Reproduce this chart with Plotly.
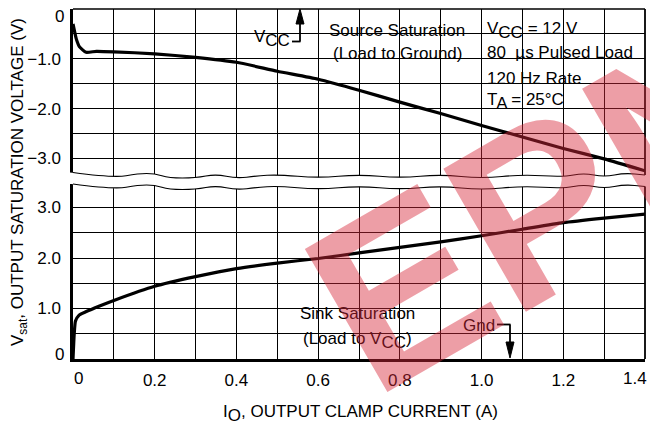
import plotly.graph_objects as go

# ---------------- data ----------------
src_I = [0, 0.008, 0.016, 0.032, 0.057, 0.1, 0.2, 0.3, 0.4, 0.5, 0.6, 0.7, 0.8, 0.9, 1.0, 1.1, 1.2, 1.3, 1.4]
src_V = [-0.30, -0.60, -0.76, -0.87, -0.85, -0.86, -0.90, -0.97, -1.07, -1.25, -1.41, -1.63, -1.87, -2.10,
         -2.34, -2.57, -2.80, -3.01, -3.25]
sink_I = [0, 0.003, 0.006, 0.015, 0.03, 0.065, 0.1, 0.2, 0.3, 0.4, 0.5, 0.6, 0.7, 0.8, 0.9, 1.0, 1.1, 1.2, 1.3, 1.4]
sink_V = [0, 0.50, 0.75, 0.87, 0.93, 1.05, 1.16, 1.44, 1.63, 1.79, 1.90, 1.99, 2.10, 2.21, 2.32, 2.44, 2.57,
          2.70, 2.79, 2.87]

x_tickvals = [0.0, 0.1, 0.2, 0.3, 0.4, 0.5, 0.6, 0.7, 0.8, 0.9, 1.0, 1.1, 1.2, 1.3, 1.4]
x_ticktext = ["", "", "0.2", "", "0.4", "", "0.6", "", "0.8", "", "1.0", "", "1.2", "", ""]
top_tickvals = [0, -0.5, -1.0, -1.5, -2.0, -2.5, -3.0]
top_ticktext = ["", "", "−1.0", "", "−2.0", "", "−3.0"]
bot_tickvals = [0, 0.5, 1.0, 1.5, 2.0, 2.5, 3.0]
bot_ticktext = ["", "", "1.0", "", "2.0", "", "3.0"]

# ---------------- layout geometry ----------------
W, H = 650, 430
ML, MR, MT, MB = 73, 5, 9, 71
PW = W - ML - MR
PH = H - MT - MB
X_MAX = 1.4
TOP_RANGE = [-3.434, 0]
BOT_RANGE = [0, 3.485]
TOP_DOM = [(359 - 180) / PH, 1]
BOT_DOM = [0, (359 - 183) / PH]

def px2x(px):
    return (px - ML) / PW

def px2y(py):
    return (H - MB - py) / PH

FONT = "Liberation Sans, Arial, Helvetica, sans-serif"
FS = 17

fig = go.Figure()
fig.add_trace(go.Scatter(x=src_I, y=src_V, xaxis="x2", yaxis="y", mode="lines",
                         line=dict(color="black", width=3.2, shape="spline", smoothing=0.5),
                         hoverinfo="skip", showlegend=False))
fig.add_trace(go.Scatter(x=sink_I, y=sink_V, xaxis="x", yaxis="y2", mode="lines",
                         line=dict(color="black", width=3.2, shape="spline", smoothing=0.5),
                         hoverinfo="skip", showlegend=False))

grid = dict(showgrid=True, gridcolor="black", gridwidth=1.2, zeroline=False)
fig.update_layout(
    width=W, height=H,
    margin=dict(l=ML, r=MR, t=MT, b=MB, pad=0),
    paper_bgcolor="white", plot_bgcolor="white",
    font=dict(family=FONT, size=FS, color="black"),
    showlegend=False,
    xaxis=dict(domain=[0, 1], anchor="y2", range=[0, X_MAX], tickvals=x_tickvals, ticktext=x_ticktext,
               showline=True, linecolor="black", linewidth=2.5, ticks="", ticklabelstandoff=4,
               tickfont=dict(size=FS), **grid),
    xaxis2=dict(domain=[0, 1], anchor="y", matches="x", range=[0, X_MAX], tickvals=x_tickvals,
                showticklabels=False, showline=False, ticks="", **grid),
    yaxis=dict(domain=TOP_DOM, anchor="x2", range=TOP_RANGE, tickvals=top_tickvals, ticktext=top_ticktext,
               showline=True, linecolor="black", linewidth=2.5, ticks="", ticklabelstandoff=6,
               tickfont=dict(size=FS), **grid),
    yaxis2=dict(domain=BOT_DOM, anchor="x", range=BOT_RANGE, tickvals=bot_tickvals, ticktext=bot_ticktext,
                showline=True, linecolor="black", linewidth=2.5, ticks="", ticklabelstandoff=6,
                tickfont=dict(size=FS), **grid),
)

shapes = []

# white label boxes (between gridlines and traces)
def white_box(x0, y0, x1, y1):
    shapes.append(dict(type="rect", xref="paper", yref="paper", layer="between",
                       x0=px2x(x0), x1=px2x(x1), y0=px2y(y1), y1=px2y(y0),
                       fillcolor="white", line=dict(width=0)))

white_box(245, 23, 303, 52)     # VCC arrow label
white_box(321, 17, 476, 66)     # Source saturation
white_box(478, 10, 644, 122)    # conditions
white_box(285, 297, 427, 353)   # Sink saturation
white_box(453, 316, 519, 338)   # Gnd

# top / right borders
shapes.append(dict(type="line", xref="paper", yref="paper", x0=0, x1=1, y0=1, y1=1,
                   line=dict(color="black", width=1.5), layer="above"))
shapes.append(dict(type="line", xref="paper", yref="paper", x0=1, x1=1, y0=TOP_DOM[0], y1=1,
                   line=dict(color="black", width=1.8), layer="above"))
shapes.append(dict(type="line", xref="paper", yref="paper", x0=1, x1=1, y0=0, y1=BOT_DOM[1],
                   line=dict(color="black", width=1.8), layer="above"))

# axis-break waves
wave_I = [0, 0.1, 0.16, 0.2, 0.235, 0.3, 0.35, 0.4, 0.45, 0.5, 0.6, 0.7, 0.8, 0.9, 1.0, 1.1, 1.2,
          1.25, 1.3, 1.35, 1.4]
wave_dy = [-3, 2.5, -2, -2, 2.5, 2.5, -1.5, 3, 0.5, -1, 2.5, -1, 2.5, -1, 3, -1, 1.5, -2.5, 1.5, -2.5, -0.5]

def wave_pts(base):
    return [(i / X_MAX, px2y(base + d)) for i, d in zip(wave_I, wave_dy)]

def smooth_path(pts, start_cmd="M"):
    s = f"{start_cmd} {pts[0][0]:.5f},{pts[0][1]:.5f}"
    for k in range(1, len(pts) - 1):
        mx = (pts[k][0] + pts[k + 1][0]) / 2
        my = (pts[k][1] + pts[k + 1][1]) / 2
        s += f" Q {pts[k][0]:.5f},{pts[k][1]:.5f} {mx:.5f},{my:.5f}"
    s += f" L {pts[-1][0]:.5f},{pts[-1][1]:.5f}"
    return s

up = wave_pts(175.5)
lo = wave_pts(187.0)
up_ext = [(-0.006, up[0][1])] + up + [(1.006, up[-1][1])]
lo_ext = [(-0.006, lo[0][1])] + lo + [(1.006, lo[-1][1])]
fill_path = smooth_path(up_ext) + " " + smooth_path(list(reversed(lo_ext)), "L") + " Z"
shapes.append(dict(type="path", xref="paper", yref="paper", path=fill_path, fillcolor="white",
                   line=dict(width=0), layer="above"))
shapes.append(dict(type="path", xref="paper", yref="paper", path=smooth_path(up),
                   line=dict(color="black", width=1.2), layer="above"))
shapes.append(dict(type="path", xref="paper", yref="paper", path=smooth_path(lo),
                   line=dict(color="black", width=1.2), layer="above"))

# VCC arrow (up) and Gnd arrow (down)
def seg(x0, y0, x1, y1, w=1.8):
    shapes.append(dict(type="line", xref="paper", yref="paper", x0=px2x(x0), y0=px2y(y0),
                       x1=px2x(x1), y1=px2y(y1), line=dict(color="black", width=w), layer="above"))

def tri(xc, ytip, ybase, hw):
    p = (f"M {px2x(xc):.5f},{px2y(ytip):.5f} L {px2x(xc - hw):.5f},{px2y(ybase):.5f} "
         f"L {px2x(xc + hw):.5f},{px2y(ybase):.5f} Z")
    shapes.append(dict(type="path", xref="paper", yref="paper", path=p, fillcolor="black",
                       line=dict(color="black", width=1), layer="above"))

seg(292, 41.5, 300.5, 41.5)
seg(300, 41.5, 300, 20)
tri(300, 9, 24, 4)
seg(497, 324.5, 510.5, 324.5)
seg(510, 324.5, 510, 344)
tri(510, 358, 342, 4)

fig.update_layout(shapes=shapes)

# ---------------- annotations ----------------
ann = []

def txt(text, x, y, xanchor="center", yanchor="middle", size=FS, color="black", angle=0):
    ann.append(dict(text=text, xref="paper", yref="paper", x=px2x(x), y=px2y(y), xanchor=xanchor,
                    yanchor=yanchor, showarrow=False, textangle=angle,
                    font=dict(family=FONT, size=size, color=color)))

SUB = lambda s: f"<sub><span style='font-size:{FS}px'>{s}</span></sub>"

# end tick labels nudged inward as in the reference
txt("0", 66, 16, xanchor="right")
txt("0", 66, 354, xanchor="right")
txt("0", 78, 378.5)
txt("1.4", 649, 378.5, xanchor="right")

txt("I" + SUB("O") + ", OUTPUT CLAMP CURRENT (A)", 360, 413)
txt("V" + "<sub>sat</sub>" + ", OUTPUT SATURATION VOLTAGE (V)", 19, 182, angle=-90)

txt("V" + SUB("CC"), 292, 38, xanchor="right")
txt("Source Saturation", 397, 30)
txt("(Load to Ground)", 397, 54)
txt("V" + SUB("CC") + " = 12 V", 485, 30, xanchor="left")
txt("80  µs Pulsed Load", 485, 53, xanchor="left")
txt("120 Hz Rate", 485, 79, xanchor="left")
txt("T" + SUB("A") + " = 25°C", 485, 102, xanchor="left")
txt("Sink Saturation", 357, 313)
txt("(Load to V" + SUB("CC") + ")", 357, 340)
txt("Gnd", 497, 325, xanchor="right")

# watermark
ann.append(dict(text="<b>EPN</b>", xref="paper", yref="paper", x=px2x(545), y=px2y(205),
                xanchor="center", yanchor="middle", showarrow=False, textangle=-30,
                font=dict(family=FONT, size=240, color="rgba(214,40,57,0.45)")))

fig.update_layout(annotations=ann)

fig.write_html("out.html", post_script="document.body.style.margin='0px';",
               config={"displayModeBar": False})
